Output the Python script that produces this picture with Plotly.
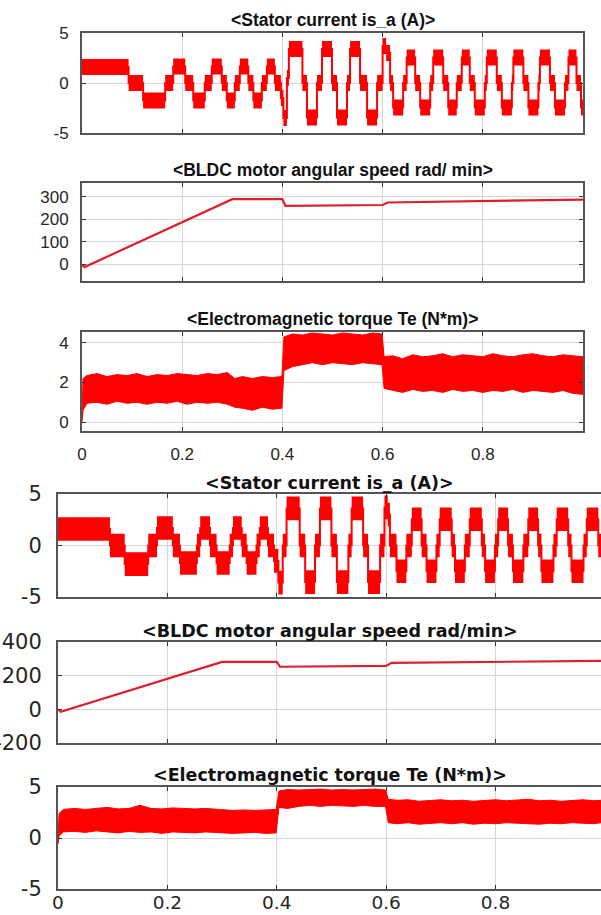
import plotly.graph_objects as go
import numpy as np

W, H = 601, 915

# ------------------------------------------------------------------ data
time_tickvals = [0, 0.2, 0.4, 0.6, 0.8]
time_ticktext = ["0", "0.2", "0.4", "0.6", "0.8"]

# ---------- Figure A (upper three scopes)
# stator current is_a: step start times and step levels (A)
ia_a_t = [0.000, 0.093, 0.122, 0.166, 0.182, 0.206, 0.222, 0.245, 0.259, 0.279,
          0.289, 0.305, 0.315, 0.332, 0.342, 0.359, 0.369, 0.385, 0.397, 0.402,
          0.409, 0.413, 0.440, 0.449, 0.469, 0.479, 0.499, 0.509, 0.529, 0.535,
          0.555, 0.569, 0.589, 0.600, 0.607, 0.615, 0.621, 0.641, 0.648, 0.665,
          0.675, 0.695, 0.701, 0.721, 0.731, 0.748, 0.758, 0.774, 0.784, 0.804,
          0.808, 0.828, 0.838, 0.858, 0.861, 0.881, 0.891, 0.911, 0.914, 0.934,
          0.944, 0.964, 0.971, 0.987, 0.996]
ia_a_v = [1.6, 0.0, -1.75, 0.0, 1.65, 0.0, -1.75, 0.0, 1.65, 0.0,
          -1.75, 0.0, 1.65, 0.0, -1.75, 0.0, 1.65, 0.0, -1.5, -3.5,
          0.5, 3.4, 0.0, -3.45, 0.0, 3.4, 0.0, -3.45, 0.0, 3.4,
          0.0, -3.45, 0.0, 3.7, 3.0, 0.0, -2.45, 0.0, 2.55, 0.0,
          -2.45, 0.0, 2.55, 0.0, -2.45, 0.0, 2.55, 0.0, -2.45, 0.0,
          2.55, 0.0, -2.45, 0.0, 2.55, 0.0, -2.45, 0.0, 2.55, 0.0,
          -2.45, 0.0, 2.55, 0.0, -2.45]
ia_a_ripple = 0.8          # half thickness of the switching-ripple band
ia_a_tend = 1.0

# rotor speed (rad/min)
speed_a_t = [0.000, 0.005, 0.300, 0.400, 0.406, 0.600, 0.610, 1.000]
speed_a_v = [-2, -13, 290, 290, 260, 264, 275, 288]

# electromagnetic torque Te: envelope of the ripple band (N*m)
te_a_t = [0.000, 0.002, 0.010, 0.030, 0.050, 0.070, 0.090, 0.110, 0.130, 0.150,
          0.170, 0.190, 0.210, 0.230, 0.250, 0.270, 0.290, 0.305, 0.320, 0.340,
          0.360, 0.380, 0.399, 0.403, 0.420, 0.440, 0.460, 0.480, 0.500, 0.520,
          0.540, 0.560, 0.580, 0.599, 0.603, 0.620, 0.640, 0.660, 0.680, 0.700,
          0.720, 0.740, 0.760, 0.780, 0.800, 0.820, 0.840, 0.860, 0.880, 0.900,
          0.920, 0.940, 0.960, 0.980, 1.000]
te_a_hi = [0.3, 2.2, 2.35, 2.45, 2.3, 2.4, 2.35, 2.45, 2.3, 2.4,
           2.35, 2.45, 2.4, 2.35, 2.45, 2.4, 2.5, 2.2, 2.3, 2.2,
           2.3, 2.25, 2.3, 4.3, 4.45, 4.4, 4.5, 4.45, 4.4, 4.5,
           4.45, 4.4, 4.5, 4.45, 3.3, 3.35, 3.2, 3.4, 3.3, 3.35,
           3.45, 3.3, 3.4, 3.35, 3.3, 3.45, 3.35, 3.3, 3.4, 3.45,
           3.35, 3.3, 3.4, 3.35, 3.3]
te_a_lo = [0.0, 0.6, 0.95, 1.0, 0.9, 1.05, 0.95, 1.0, 0.9, 1.0,
           0.95, 1.05, 0.9, 1.0, 0.95, 1.0, 0.9, 0.75, 0.7, 0.6,
           0.75, 0.65, 0.7, 2.6, 2.8, 2.9, 3.0, 2.9, 3.0, 2.95,
           2.9, 3.0, 2.95, 2.9, 1.7, 1.6, 1.5, 1.65, 1.55, 1.6,
           1.5, 1.65, 1.55, 1.6, 1.5, 1.6, 1.55, 1.65, 1.5, 1.6,
           1.55, 1.5, 1.6, 1.45, 1.4]

# ---------- Figure B (lower three scopes)
ia_b_t = [0.000, 0.095, 0.122, 0.165, 0.181, 0.210, 0.223, 0.254, 0.260, 0.278,
          0.290, 0.314, 0.320, 0.336, 0.345, 0.363, 0.369, 0.384, 0.395, 0.403,
          0.411, 0.418, 0.442, 0.452, 0.470, 0.479, 0.500, 0.510, 0.531, 0.537,
          0.558, 0.567, 0.589, 0.597, 0.603, 0.607, 0.619, 0.637, 0.647, 0.665,
          0.674, 0.692, 0.698, 0.720, 0.726, 0.744, 0.753, 0.775, 0.781, 0.799,
          0.805, 0.823, 0.832, 0.851, 0.860, 0.878, 0.884, 0.906, 0.912, 0.933,
          0.939, 0.961, 0.967, 0.988]
ia_b_v = [1.6, 0.0, -1.8, 0.0, 1.7, 0.0, -1.7, 0.0, 1.7, 0.0,
          -1.7, 0.0, 1.7, 0.0, -1.7, 0.0, 1.7, 0.0, -1.5, -3.6,
          0.0, 3.6, 0.0, -3.55, 0.0, 3.6, 0.0, -3.55, 0.0, 3.6,
          0.0, -3.55, 0.0, 3.7, 3.0, 0.0, -2.5, 0.0, 2.55, 0.0,
          -2.5, 0.0, 2.55, 0.0, -2.5, 0.0, 2.55, 0.0, -2.5, 0.0,
          2.55, 0.0, -2.5, 0.0, 2.55, 0.0, -2.5, 0.0, 2.55, 0.0,
          -2.5, 0.0, 2.55, 0.0]
ia_b_ripple = 1.15
ia_b_tend = 0.993

speed_b_t = [0.000, 0.005, 0.300, 0.400, 0.406, 0.600, 0.610, 0.993]
speed_b_v = [0, -15, 282, 282, 253, 258, 276, 288]

te_b_t = [0.000, 0.002, 0.010, 0.030, 0.050, 0.070, 0.090, 0.110, 0.130, 0.150,
          0.170, 0.190, 0.210, 0.230, 0.250, 0.270, 0.290, 0.305, 0.320, 0.340,
          0.360, 0.380, 0.399, 0.404, 0.420, 0.440, 0.460, 0.480, 0.500, 0.520,
          0.540, 0.560, 0.580, 0.599, 0.604, 0.620, 0.640, 0.660, 0.680, 0.700,
          0.720, 0.740, 0.760, 0.780, 0.800, 0.820, 0.840, 0.860, 0.880, 0.900,
          0.920, 0.940, 0.960, 0.980, 0.993]
te_b_hi = [0.0, 2.4, 2.8, 2.9, 2.8, 2.9, 3.0, 2.85, 2.9, 3.2,
           2.9, 2.85, 2.95, 2.9, 2.85, 2.9, 2.8, 2.75, 2.7, 2.75,
           2.7, 2.75, 2.8, 4.6, 4.75, 4.7, 4.75, 4.8, 4.7, 4.75,
           4.7, 4.75, 4.8, 4.7, 3.8, 3.7, 3.75, 3.6, 3.7, 3.75,
           3.65, 3.7, 3.6, 3.7, 3.75, 3.65, 3.7, 3.8, 3.65, 3.7,
           3.6, 3.7, 3.75, 3.65, 3.7]
te_b_lo = [-0.6, 0.2, 0.6, 0.65, 0.55, 0.7, 0.6, 0.5, 0.65, 0.55,
           0.6, 0.45, 0.6, 0.55, 0.5, 0.6, 0.55, 0.5, 0.45, 0.5,
           0.55, 0.45, 0.5, 3.0, 2.9, 3.1, 3.2, 3.1, 3.2, 3.15,
           3.1, 3.2, 3.1, 3.1, 1.5, 1.4, 1.5, 1.35, 1.45, 1.5,
           1.4, 1.5, 1.35, 1.45, 1.4, 1.5, 1.45, 1.4, 1.35, 1.45,
           1.4, 1.5, 1.45, 1.4, 1.5]

# --------------------------------------------------------------- styling
RED = "#ff0000"
SPEED_RED = "#dc1f2a"
AXIS_COL = "#555555"
GRID_COL = "#d6d6d6"
TXT = "#262626"

# panel pixel boxes (top, bottom)
panels = [(33, 133), (183, 281), (332, 431), (494, 597), (642, 743), (787, 889)]
xa_px = (82, 583)
xb_px = (58, 601)

fig = go.Figure()


def stairs(t, v, tend):
    return list(t) + [tend], list(v) + [v[-1]]


def add_current(n, t, v, ripple, tend):
    x, y = stairs(t, v, tend)
    y = np.array(y)
    fig.add_trace(go.Scatter(x=x, y=y - ripple, mode="lines", line=dict(width=0, shape="hv", color=RED),
                             xaxis=f"x{n}", yaxis=f"y{n}", showlegend=False, hoverinfo="skip"))
    fig.add_trace(go.Scatter(x=x, y=y + ripple, mode="lines", line=dict(width=0, shape="hv", color=RED),
                             fill="tonexty", fillcolor=RED,
                             xaxis=f"x{n}", yaxis=f"y{n}", showlegend=False, hoverinfo="skip"))
    fig.add_trace(go.Scatter(x=x, y=y, mode="lines", line=dict(width=2, shape="hv", color=RED),
                             xaxis=f"x{n}", yaxis=f"y{n}", showlegend=False))


def add_speed(n, t, v):
    fig.add_trace(go.Scatter(x=t, y=v, mode="lines", line=dict(width=2.2, color=SPEED_RED),
                             xaxis=f"x{n}", yaxis=f"y{n}", showlegend=False))


def add_torque(n, t, lo, hi):
    fig.add_trace(go.Scatter(x=t, y=lo, mode="lines", line=dict(width=1, color=RED),
                             xaxis=f"x{n}", yaxis=f"y{n}", showlegend=False, hoverinfo="skip"))
    fig.add_trace(go.Scatter(x=t, y=hi, mode="lines", line=dict(width=1, color=RED),
                             fill="tonexty", fillcolor=RED,
                             xaxis=f"x{n}", yaxis=f"y{n}", showlegend=False))


add_current(1, ia_a_t, ia_a_v, ia_a_ripple, ia_a_tend)
add_speed(2, speed_a_t, speed_a_v)
add_torque(3, te_a_t, te_a_lo, te_a_hi)
add_current(4, ia_b_t, ia_b_v, ia_b_ripple, ia_b_tend)
add_speed(5, speed_b_t, speed_b_v)
add_torque(6, te_b_t, te_b_lo, te_b_hi)

y_specs = [
    dict(range=[-5, 5], tickvals=[-5, 0, 5], ticktext=["-5", "0", "5"]),
    dict(range=[-75, 362], tickvals=[0, 100, 200, 300], ticktext=["0", "100", "200", "300"]),
    dict(range=[-0.45, 4.55], tickvals=[0, 2, 4], ticktext=["0", "2", "4"]),
    dict(range=[-5, 5], tickvals=[-5, 0, 5], ticktext=["-5", "0", "5"]),
    dict(range=[-200, 400], tickvals=[-200, 0, 200, 400], ticktext=["-200", "0", "200", "400"]),
    dict(range=[-5, 5], tickvals=[-5, 0, 5], ticktext=["-5", "0", "5"]),
]

titles = [
    "<Stator current is_a (A)>",
    "<BLDC motor angular speed rad/ min>",
    "<Electromagnetic torque Te (N*m)>",
    "<Stator current is_a (A)>",
    "<BLDC motor angular speed rad/min>",
    "<Electromagnetic torque Te (N*m)>",
]
title_y = [20, 170, 319, 483, 631, 775]

fontA = dict(family="Liberation Sans, Arial, sans-serif", size=17, color=TXT)
fontB = dict(family="DejaVu Sans, sans-serif", size=18.5, color=TXT)
fontBy = dict(family="DejaVu Sans, sans-serif", size=21, color=TXT)
tfontA = dict(family="Liberation Sans, Arial, sans-serif", size=17.5, color="#111111", weight="bold")
tfontB = dict(family="DejaVu Sans, sans-serif", size=17.5, color="#111111", weight="bold")

layout = dict(width=W, height=H, margin=dict(l=0, r=0, t=0, b=0, autoexpand=False),
              paper_bgcolor="white", plot_bgcolor="white", showlegend=False)

annotations = []
for i in range(6):
    n = i + 1
    groupA = i < 3
    xpx = xa_px if groupA else xb_px
    top, bot = panels[i]
    show_x = (i == 2 or i == 5)
    xr = [0, ia_a_tend] if groupA else [0, ia_b_tend]
    layout[f"xaxis{n if n > 1 else ''}"] = dict(
        domain=[xpx[0] / W, xpx[1] / W], range=xr, anchor=f"y{n}", automargin=False,
        tickvals=time_tickvals, ticktext=time_ticktext, showticklabels=show_x,
        showgrid=True, gridcolor=GRID_COL, gridwidth=1, zeroline=False,
        showline=True, linecolor=AXIS_COL, linewidth=2, mirror="allticks",
        ticks="inside", ticklen=4, tickcolor="#333333", tickwidth=1,
        tickfont=fontA if groupA else fontB, ticklabelstandoff=7 if groupA else -4,
    )
    spec = y_specs[i]
    layout[f"yaxis{n if n > 1 else ''}"] = dict(
        domain=[1 - bot / H, 1 - top / H], anchor=f"x{n}", range=spec["range"], automargin=False,
        tickvals=spec["tickvals"], ticktext=spec["ticktext"],
        showgrid=True, gridcolor=GRID_COL, gridwidth=1, zeroline=False,
        showline=True, linecolor=AXIS_COL, linewidth=2,
        mirror="allticks" if groupA else False,
        ticks="inside", ticklen=4, tickcolor="#333333", tickwidth=1,
        tickfont=fontA if groupA else fontBy, ticklabelstandoff=8 if groupA else 10,
    )
    annotations.append(dict(
        text=titles[i].replace("<", "&lt;").replace(">", "&gt;"),
        xref="paper", yref="paper", x=(xpx[0] + xpx[1]) / 2 / W, y=1 - title_y[i] / H,
        xanchor="center", yanchor="middle", showarrow=False,
        font=tfontA if groupA else tfontB,
    ))

layout["annotations"] = annotations
fig.update_layout(**layout)
fig.write_html("out.html", config={"displayModeBar": False},
               post_script="document.body.style.margin='0';document.body.style.overflow='hidden';")
